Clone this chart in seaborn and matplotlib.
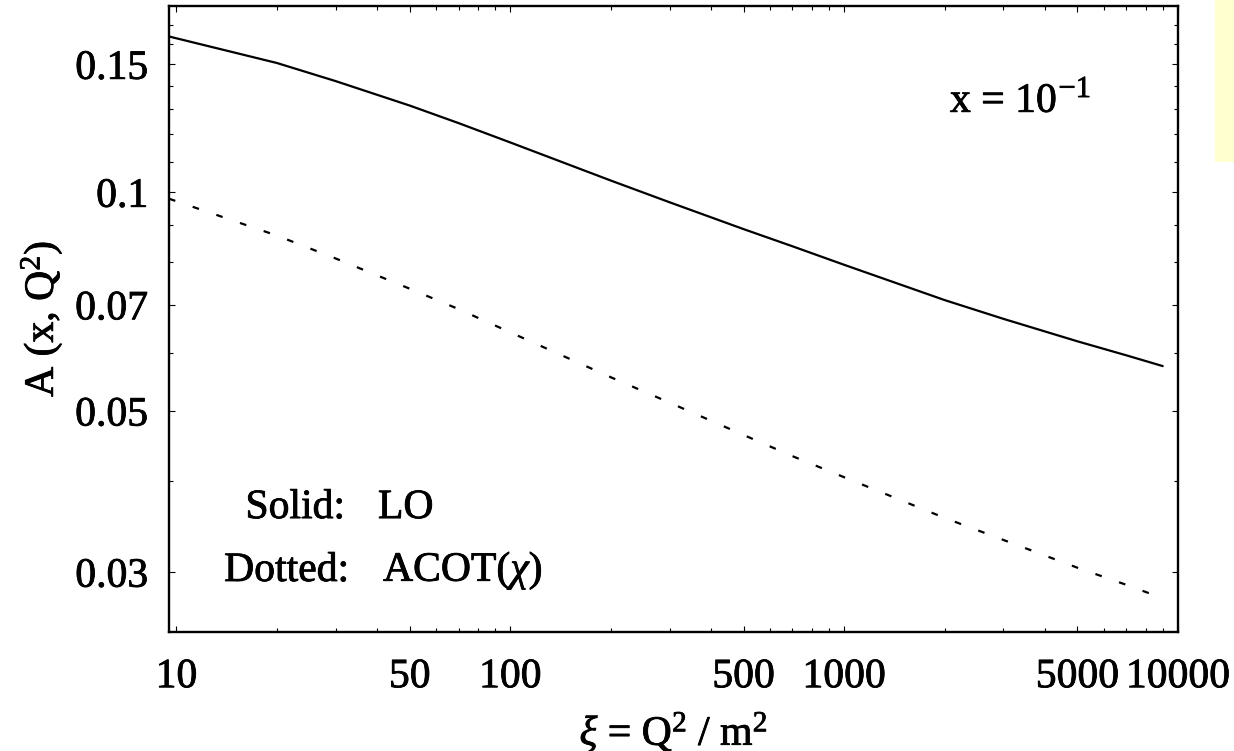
import numpy as np
import pandas as pd
import matplotlib
matplotlib.use("Agg")
import matplotlib.pyplot as plt
import matplotlib.patheffects as pe
from matplotlib.ticker import FixedLocator, FixedFormatter, NullFormatter
from matplotlib.patches import Rectangle
import seaborn as sns

# Asymmetry A(x, Q^2) at x = 0.1 versus xi = Q^2/m^2
xi = [9.5, 20, 30, 50, 70, 100, 200, 300, 500, 700, 1000, 2000, 3000, 5000, 7000, 9000]
a_lo = [0.1637, 0.1505, 0.1421, 0.1315, 0.1244, 0.1170, 0.1037, 0.0968, 0.0889,
        0.0842, 0.0794, 0.0710, 0.0669, 0.0623, 0.0596, 0.0576]
a_acot = [0.0979, 0.0871, 0.0810, 0.0736, 0.0690, 0.0641, 0.0556, 0.0513, 0.0463,
          0.0433, 0.0405, 0.0356, 0.0332, 0.0304, 0.0288, 0.0276]

x_major = [10, 50, 100, 500, 1000, 5000, 10000]
x_major_labels = ["10", "50", "100", "500", "1000", "5000", "10000"]
x_minor = [20, 30, 40, 60, 70, 80, 90, 200, 300, 400, 600, 700, 800, 900,
           2000, 3000, 4000, 6000, 7000, 8000, 9000]
y_major = [0.03, 0.05, 0.07, 0.1, 0.15]
y_major_labels = ["0.03", "0.05", "0.07", "0.1", "0.15"]
y_minor = [0.04, 0.06, 0.08, 0.09, 0.11, 0.12, 0.13, 0.14, 0.16, 0.17]

df = pd.DataFrame({
    "xi": xi + xi,
    "A": a_lo + a_acot,
    "scheme": ["LO"] * len(xi) + ["ACOT"] * len(xi),
})

sns.set_style("ticks")
plt.rcParams["font.family"] = ["Liberation Serif", "DejaVu Serif"]
plt.rcParams["mathtext.fontset"] = "custom"
plt.rcParams["mathtext.rm"] = "Liberation Serif"
plt.rcParams["mathtext.it"] = "Liberation Serif:italic"
plt.rcParams["mathtext.bf"] = "Liberation Serif:bold"
plt.rcParams["text.color"] = "black"
plt.rcParams["axes.labelcolor"] = "black"

# slightly heavier glyph strokes for all text
heavy = [pe.withStroke(linewidth=0.6, foreground="black")]

fig = plt.figure(figsize=(12.34, 7.51), dpi=100)
ax = fig.add_axes([169 / 1234, 1 - 632 / 751, 1009 / 1234, 626 / 751])

sns.lineplot(data=df, x="xi", y="A", hue="scheme", style="scheme",
             palette={"LO": "black", "ACOT": "black"},
             dashes={"LO": "", "ACOT": (3.0, 8.25)},
             linewidth=1.6, legend=False, ax=ax)

ax.set_xscale("log")
ax.set_yscale("log")
ax.set_xlim(9.5, 10000)
ax.set_ylim(0.0248, 0.1803)

ax.xaxis.set_major_locator(FixedLocator(x_major))
ax.xaxis.set_major_formatter(FixedFormatter(x_major_labels))
ax.xaxis.set_minor_locator(FixedLocator(x_minor))
ax.xaxis.set_minor_formatter(NullFormatter())
ax.yaxis.set_major_locator(FixedLocator(y_major))
ax.yaxis.set_major_formatter(FixedFormatter(y_major_labels))
ax.yaxis.set_minor_locator(FixedLocator(y_minor))
ax.yaxis.set_minor_formatter(NullFormatter())

ax.tick_params(which="both", direction="in", top=True, right=True,
               color="black", width=0.8, labelsize=30, labelcolor="black")
ax.tick_params(which="major", length=4.5)
ax.tick_params(which="minor", length=2.6)
ax.tick_params(axis="x", which="major", pad=18.5)
ax.tick_params(axis="y", which="major", pad=15)

for s in ax.spines.values():
    s.set_linewidth(1.7)
    s.set_color("black")

ax.set_xlabel(r"$\xi$ = Q$^2$ / m$^2$", fontsize=30, va="top")
ax.xaxis.set_label_coords(0.5, -0.126)
ax.set_ylabel(r"A (x, Q$^2$)", fontsize=30)
ax.yaxis.set_label_coords(-0.104, 0.5)

texts = [
    ax.text(0.774, 0.831, "x = 10", transform=ax.transAxes,
            fontsize=30, ha="left", va="baseline"),
    ax.text(0.8815, 0.8546, "\u22121", transform=ax.transAxes,
            fontsize=22, ha="left", va="baseline"),
    ax.text(0.1744, 0.182, "Solid:", transform=ax.transAxes,
            fontsize=30, ha="right", va="baseline"),
    ax.text(0.2071, 0.182, "LO", transform=ax.transAxes,
            fontsize=30, ha="left", va="baseline"),
    ax.text(0.1784, 0.0815, "Dotted:", transform=ax.transAxes,
            fontsize=30, ha="right", va="baseline"),
    ax.text(0.2121, 0.0815, r"ACOT($\chi$)", transform=ax.transAxes,
            fontsize=30, ha="left", va="baseline"),
]
for t in texts + ax.get_xticklabels() + ax.get_yticklabels() + [ax.xaxis.label, ax.yaxis.label]:
    t.set_path_effects(heavy)

fig.patches.append(Rectangle((1215 / 1234, 1 - 162 / 751), 19 / 1234, 162 / 751,
                             transform=fig.transFigure, facecolor="#FFFFCF",
                             edgecolor="none"))

fig.savefig("out.png", dpi=100, facecolor="white")
